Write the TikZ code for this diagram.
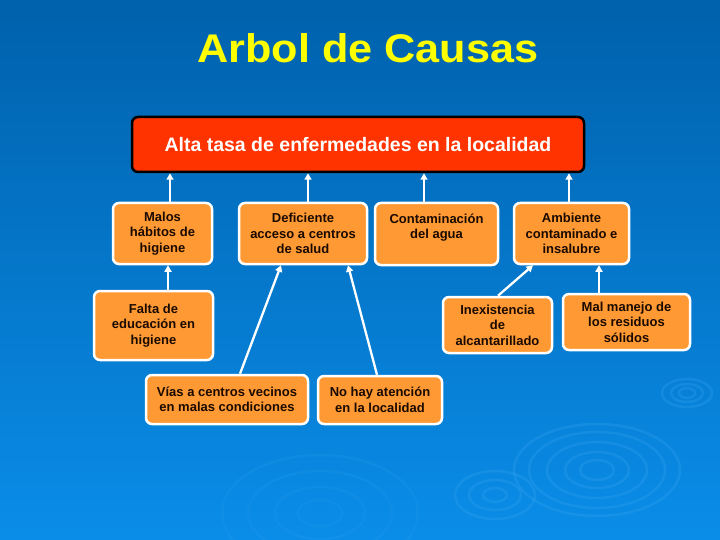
\documentclass[tikz,border=0pt]{standalone}
\usepackage{fontspec}
\setmainfont{Liberation Sans}
\usepackage{graphicx}
\usetikzlibrary{arrows.meta}
\definecolor{bgtop}{HTML}{0061AC}
\definecolor{bgmid}{HTML}{006DBD}
\definecolor{bgbot}{HTML}{0A8DE8}
\definecolor{boxor}{HTML}{FF9933}
\definecolor{boxred}{HTML}{FF3300}
\definecolor{txtdark}{HTML}{1A0A00}
\definecolor{ripple}{HTML}{3AA8F2}
\definecolor{titleyel}{HTML}{FFFF00}
\begin{document}
\begin{tikzpicture}[x=1pt,y=-1pt,
  cause/.style={draw=white, line width=2.5pt, fill=boxor, rounded corners=6pt, inner sep=0pt,
    align=center, text=txtdark, font=\fontsize{13}{15.5}\selectfont\bfseries},
  effect/.style={draw=black, line width=2.5pt, fill=boxred, rounded corners=6pt, inner sep=0pt,
    text=white, font=\fontsize{19.5}{23}\selectfont\bfseries},
  arr/.style={draw=white, line width=2.3pt, -{Triangle[length=6.5pt,width=7pt]}},
  rip/.style={draw=ripple, opacity=0.25, line width=2.5pt}]
\useasboundingbox (0,0) rectangle (720,540);
\shade[top color=bgtop, middle color=bgmid, bottom color=bgbot] (0,0) rectangle (720,540);
% ripples
\foreach \rx/\ry in {83/46,68/38,50/28,32/18,17/10}
  \draw[rip] (597,470) ellipse [x radius=\rx pt, y radius=\ry pt];
\foreach \rx/\ry in {25/14,16/9,8/5}
  \draw[rip] (687,393) ellipse [x radius=\rx pt, y radius=\ry pt];
\foreach \rx/\ry in {40/24,26/15,12/7}
  \draw[rip] (495,495) ellipse [x radius=\rx pt, y radius=\ry pt];
\foreach \rx/\ry in {98/58,72/42,45/26,22/13}
  \draw[rip, opacity=0.13] (320,513) ellipse [x radius=\rx pt, y radius=\ry pt];
% title
\node[anchor=base, text=titleyel, font=\fontsize{40}{48}\selectfont\bfseries, inner sep=0pt]
  (title) at (368,63) {\scalebox{1.08}[1]{Arbol de Causas}};
% effect
\node[effect, minimum width=452pt, minimum height=55pt] (top) at (358,144.5)
  {Alta tasa de enfermedades en la localidad};
% row 1
\node[cause, minimum width=99pt, minimum height=61pt] (malos) at (162.5,233.5)
  {Malos\\hábitos de\\higiene};
\node[cause, minimum width=128pt, minimum height=61pt] (defic) at (303,233.5)
  {Deficiente\\acceso a centros\\de salud};
\node[cause, minimum width=123pt, minimum height=62pt] (contam) at (436.5,234)
  {Contaminación\\del agua\\\mbox{}};
\node[cause, minimum width=115pt, minimum height=61pt] (amb) at (571.5,233.5)
  {Ambiente\\contaminado e\\insalubre};
% row 2
\node[cause, minimum width=119pt, minimum height=69pt] (falta) at (153.5,325.5)
  {Falta de\\educación en\\higiene};
\node[cause, minimum width=109pt, minimum height=56pt] (inex) at (497.5,325)
  {Inexistencia\\de\\alcantarillado};
\node[cause, minimum width=127pt, minimum height=56pt] (malm) at (626.5,322)
  {Mal manejo de\\los residuos\\sólidos};
% row 3
\node[cause, minimum width=162pt, minimum height=49pt] (vias) at (227,399.5)
  {Vías a centros vecinos\\en malas condiciones};
\node[cause, minimum width=124pt, minimum height=48pt] (nohay) at (380,400)
  {No hay atención\\en la localidad};
% connectors
\draw[arr] (170,0 |- malos.north) -- (170,0 |- top.south);
\draw[arr] (308,0 |- defic.north) -- (308,0 |- top.south);
\draw[arr] (424,0 |- contam.north) -- (424,0 |- top.south);
\draw[arr] (569,0 |- amb.north) -- (569,0 |- top.south);
\draw[arr] (168,0 |- falta.north) -- (168,0 |- malos.south);
\draw[arr] (240,0 |- vias.north) -- (281,0 |- defic.south);
\draw[arr] (377,0 |- nohay.north) -- (348,0 |- defic.south);
\draw[arr] (498,0 |- inex.north) -- (533,0 |- amb.south);
\draw[arr] (599,0 |- malm.north) -- (599,0 |- amb.south);
\end{tikzpicture}
\end{document}
